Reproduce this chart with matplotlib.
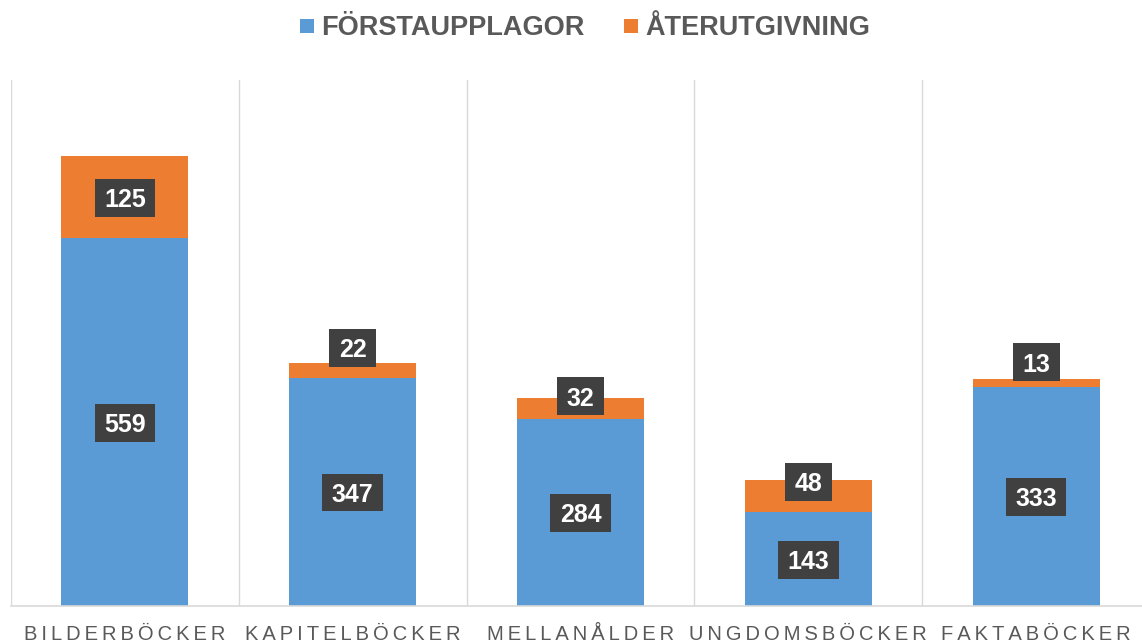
import matplotlib
matplotlib.use("Agg")
import matplotlib.pyplot as plt
from matplotlib.lines import Line2D
from matplotlib.path import Path
import numpy as np

categories = ["BILDERBÖCKER", "KAPITELBÖCKER", "MELLANÅLDER", "UNGDOMSBÖCKER", "FAKTABÖCKER"]
forstaupplagor = [559, 347, 284, 143, 333]
aterutgivning = [125, 22, 32, 48, 13]
series_names = ["FÖRSTAUPPLAGOR", "ÅTERUTGIVNING"]

# pixel nudges for the orange labels (Excel moved them to avoid overlap)
orange_label_nudge_px = [0, 23, 13, 15, 21]

BLUE = "#5B9BD5"
ORANGE = "#ED7D31"
GRAY_TXT = "#595959"
GRID = "#D9D9D9"
BOX = "#404040"
FONT = ["Liberation Sans", "DejaVu Sans"]

plt.rcParams["font.family"] = FONT

W, H = 1142, 643
fig = plt.figure(figsize=(W / 100, H / 100), dpi=100)
ax = fig.add_axes([11 / W, 37 / H, 1139 / W, 526 / H])

x = np.arange(len(categories))
bw = 0.557
ax.bar(x, forstaupplagor, width=bw, color=BLUE, zorder=2)
ax.bar(x, aterutgivning, width=bw, bottom=forstaupplagor, color=ORANGE, zorder=2)

ax.set_xlim(-0.5, len(categories) - 0.5)
ax.set_ylim(0, 800)

# category separators
ax.set_xticks(np.arange(-0.5, len(categories)), minor=True)
ax.grid(True, which="minor", axis="x", color=GRID, linewidth=1.0, zorder=0)
ax.grid(False, which="major")
ax.tick_params(axis="x", which="minor", length=0)
ax.set_yticks([])
for s in ["left", "top", "right"]:
    ax.spines[s].set_visible(False)
ax.spines["bottom"].set_color(GRID)
ax.spines["bottom"].set_linewidth(1.2)

spaced = ["\u2009".join(c) for c in categories]
ax.set_xticks(x)
ax.set_xticklabels(spaced, fontsize=14.5, color=GRAY_TXT)
ax.tick_params(axis="x", which="major", length=0, pad=14)


def label_box(x0, y0, width, height, mutation_size):
    # box hugging the digits: fixed horizontal and vertical padding
    padx = 0.38 * mutation_size
    pady = 0.40 * mutation_size
    base = y0 + 0.21 * mutation_size
    top = base + 0.716 * mutation_size
    l, r = x0 - padx, x0 + width + padx
    b, t = base - pady, top + pady
    return Path([(l, b), (r, b), (r, t), (l, t), (l, b)], closed=True)


def label(xc, yc, val, nudge=0):
    ax.annotate(str(val), (xc, yc), xytext=(0, nudge * 0.72 - 2.0),
                textcoords="offset points", ha="center", va="center",
                fontsize=18, fontweight="bold", color="white", zorder=5,
                bbox=dict(boxstyle=label_box, fc=BOX, ec="none"))


for i in range(len(categories)):
    b = forstaupplagor[i]
    o = aterutgivning[i]
    label(x[i], b / 2, b)
    label(x[i], b + o / 2, o, orange_label_nudge_px[i])

handles = [Line2D([], [], marker="s", linestyle="none", markersize=9.4, color=c,
                  markeredgewidth=0) for c in (BLUE, ORANGE)]
leg = fig.legend(handles, series_names, loc="center", bbox_to_anchor=(584.5 / W, 1 - 28 / H),
                 ncol=2, frameon=False, handlelength=0.55, handletextpad=0.25,
                 columnspacing=1.45, prop=dict(family=FONT, weight="bold", size=19.5))
for t in leg.get_texts():
    t.set_color(GRAY_TXT)

fig.savefig("out.png", dpi=100)
